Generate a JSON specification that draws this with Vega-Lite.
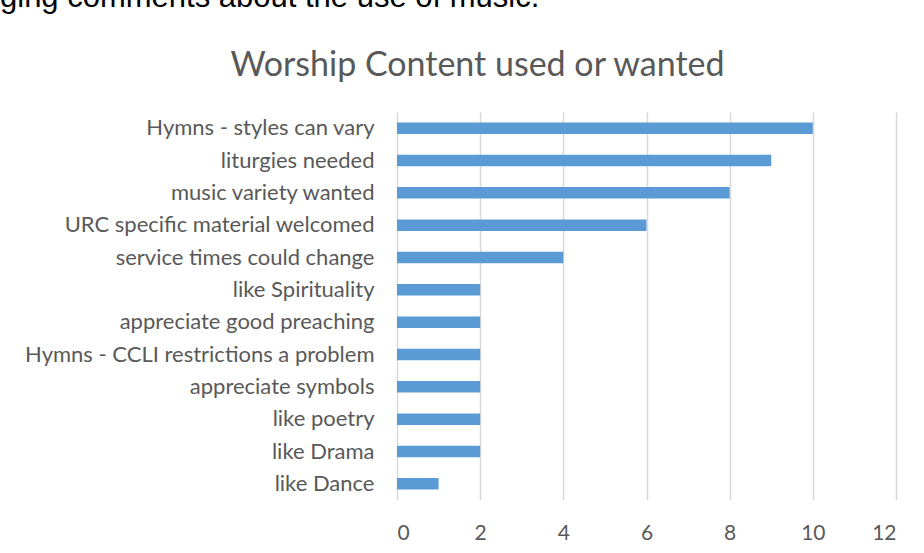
{
  "$schema": "https://vega.github.io/schema/vega-lite/v6.json",
  "autosize": "none",
  "width": 499,
  "height": 388,
  "padding": {"left": 397, "top": 112, "right": 28, "bottom": 53},
  "background": "white",
  "title": {
    "text": "ging comments about the use of music.",
    "anchor": "start",
    "frame": "group",
    "dx": -397,
    "offset": 10,
    "baseline": "alphabetic",
    "font": "Liberation Sans",
    "fontSize": 31,
    "fontWeight": "normal",
    "color": "#000000"
  },
  "data": {
    "values": [
      {"item": "Hymns - styles can vary", "count": 10},
      {"item": "liturgies needed", "count": 9},
      {"item": "music variety wanted", "count": 8},
      {"item": "URC specific material welcomed", "count": 6},
      {"item": "service times could change", "count": 4},
      {"item": "like Spirituality", "count": 2},
      {"item": "appreciate good preaching", "count": 2},
      {"item": "Hymns - CCLI restrictions a problem", "count": 2},
      {"item": "appreciate symbols", "count": 2},
      {"item": "like poetry", "count": 2},
      {"item": "like Drama", "count": 2},
      {"item": "like Dance", "count": 1}
    ]
  },
  "mark": {"type": "bar", "color": "#5b9bd5"},
  "encoding": {
    "y": {
      "field": "item",
      "type": "nominal",
      "sort": null,
      "scale": {"paddingInner": 0.645, "paddingOuter": 0.3225},
      "axis": {
        "title": "Worship Content used or wanted",
        "titleAngle": 0,
        "titleAlign": "center",
        "titleBaseline": "alphabetic",
        "titleX": 80,
        "titleY": -37,
        "titleFont": "Lato",
        "titleFontSize": 34,
        "titleFontWeight": "normal",
        "titleColor": "#595959",
        "domain": false,
        "ticks": false,
        "grid": false,
        "labelPadding": 23,
        "labelFont": "Lato",
        "labelFontSize": 22,
        "labelColor": "#595959",
        "labelLimit": 500
      }
    },
    "x": {
      "field": "count",
      "type": "quantitative",
      "scale": {"domain": [0, 12], "nice": false},
      "axis": {
        "title": null,
        "values": [0, 2, 4, 6, 8, 10, 12],
        "domain": false,
        "ticks": false,
        "grid": true,
        "gridColor": "#d9d9d9",
        "gridWidth": 1.5,
        "labelPadding": 22,
        "labelFont": "Lato",
        "labelFontSize": 21,
        "labelColor": "#595959"
      }
    }
  },
  "config": {"view": {"stroke": null}}
}
